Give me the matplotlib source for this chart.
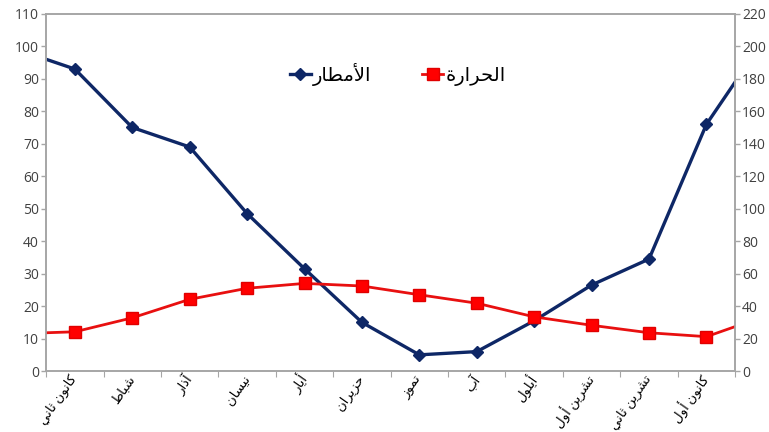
import numpy as np
import matplotlib
matplotlib.use('Agg')
from matplotlib import pyplot as plt

plt.rcParams['font.family'] = ['Open Sans', 'DejaVu Sans']

months = ['كانون ثاني', 'شباط', 'آذار', 'نيسان', 'أيار', 'حزيران',
          'تموز', 'آب', 'أيلول', 'تشرين أول', 'تشرين ثاني', 'كانون أول']
temp = [12.1, 16.4, 22.1, 25.5, 27.0, 26.2, 23.5, 20.9, 16.7, 14.1, 11.8, 10.6]   # left axis
rain = [186, 150, 138, 97, 63, 30, 10, 12, 31, 53, 69, 152]                     # right axis
# neighbouring values cut off at the chart edges
temp_before, temp_after = 11.5, 16.8
rain_before, rain_after = 198, 204

temp_label = 'الحرارة'
rain_label = 'الأمطار'

# matplotlib does no arabic shaping, so pick the presentation forms by hand
FORMS = {
    'ا': (0xFE8D, 0xFE8E, None, None), 'آ': (0xFE81, 0xFE82, None, None),
    'أ': (0xFE83, 0xFE84, None, None), 'ة': (0xFE93, 0xFE94, None, None),
    'ذ': (0xFEAB, 0xFEAC, None, None), 'ر': (0xFEAD, 0xFEAE, None, None),
    'ز': (0xFEAF, 0xFEB0, None, None), 'و': (0xFEED, 0xFEEE, None, None),
    'ب': (0xFE8F, 0xFE90, 0xFE91, 0xFE92), 'ت': (0xFE95, 0xFE96, 0xFE97, 0xFE98),
    'ث': (0xFE99, 0xFE9A, 0xFE9B, 0xFE9C), 'ح': (0xFEA1, 0xFEA2, 0xFEA3, 0xFEA4),
    'س': (0xFEB1, 0xFEB2, 0xFEB3, 0xFEB4), 'ش': (0xFEB5, 0xFEB6, 0xFEB7, 0xFEB8),
    'ط': (0xFEC1, 0xFEC2, 0xFEC3, 0xFEC4), 'ك': (0xFED9, 0xFEDA, 0xFEDB, 0xFEDC),
    'ل': (0xFEDD, 0xFEDE, 0xFEDF, 0xFEE0), 'م': (0xFEE1, 0xFEE2, 0xFEE3, 0xFEE4),
    'ن': (0xFEE5, 0xFEE6, 0xFEE7, 0xFEE8), 'ي': (0xFEF1, 0xFEF2, 0xFEF3, 0xFEF4),
}
LAM_ALEF = {'ا': (0xFEFB, 0xFEFC), 'أ': (0xFEF7, 0xFEF8), 'آ': (0xFEF5, 0xFEF6)}


def dual(c):
    return c in FORMS and FORMS[c][2] is not None


def shape(s):
    out = []
    i = 0
    n = len(s)
    while i < n:
        c = s[i]
        if c not in FORMS:
            out.append(c)
            i += 1
            continue
        joins_prev = i > 0 and dual(s[i-1])
        if c == 'ل' and i+1 < n and s[i+1] in LAM_ALEF:
            iso, fin = LAM_ALEF[s[i+1]]
            out.append(chr(fin if joins_prev else iso))
            i += 2
            continue
        joins_next = dual(c) and i+1 < n and s[i+1] in FORMS
        iso, fin, ini, med = FORMS[c]
        if joins_prev and joins_next:
            code = med
        elif joins_prev:
            code = fin
        elif joins_next:
            code = ini
        else:
            code = iso
        out.append(chr(code))
        i += 1
    return ''.join(reversed(out))


x = np.arange(-1, 13)
temp_full = [temp_before] + temp + [temp_after]
rain_full = [rain_before] + rain + [rain_after]

fig = plt.figure(figsize=(7.69, 4.32), dpi=100)
ax = fig.add_axes([0.060, 0.141, 0.896, 0.827])
ax2 = ax.twinx()
ax.set_zorder(ax2.get_zorder() + 1)
ax.patch.set_visible(False)

l_rain, = ax2.plot(x, rain_full, color='#0e2766', lw=2.4, marker='D', ms=6.5,
                   label=shape(rain_label))
l_temp, = ax.plot(x, temp_full, color='#e81010', lw=2.0, marker='s', ms=9,
                  mfc='#ff0000', mec='#e00000', label=shape(temp_label))

ax.set_xlim(-0.5, 11.5)
ax.set_ylim(0, 110)
ax2.set_ylim(0, 220)
ax.set_yticks(np.arange(0, 111, 10))
ax2.set_yticks(np.arange(0, 221, 20))

ax.set_xticks(np.arange(-0.5, 12, 1))
ax.set_xticklabels([])
ax.set_xticks(np.arange(12), [shape(m) for m in months], minor=True)
ax.tick_params(axis='x', which='major', length=4, color='#a6a6a6')
ax.tick_params(axis='x', which='minor', length=0, labelsize=9.5, pad=4)
for t in ax.get_xticklabels(minor=True):
    t.set_rotation(55)
    t.set_ha('right')
    t.set_va('center')
    t.set_rotation_mode('anchor')

for a in (ax, ax2):
    a.tick_params(axis='y', length=3.6, width=1, pad=1.5, color='#a6a6a6',
                  labelsize=10, labelcolor='#404040')
    for s in a.spines.values():
        s.set_color('#a6a6a6')
        s.set_linewidth(1.2)

ax.legend(handles=[l_rain, l_temp], loc='center', bbox_to_anchor=(0.51, 0.83),
          ncol=2, frameon=False, fontsize=14, handlelength=1.1, handletextpad=0.1,
          columnspacing=2.6, numpoints=1)

fig.savefig('out.png', dpi=100)
